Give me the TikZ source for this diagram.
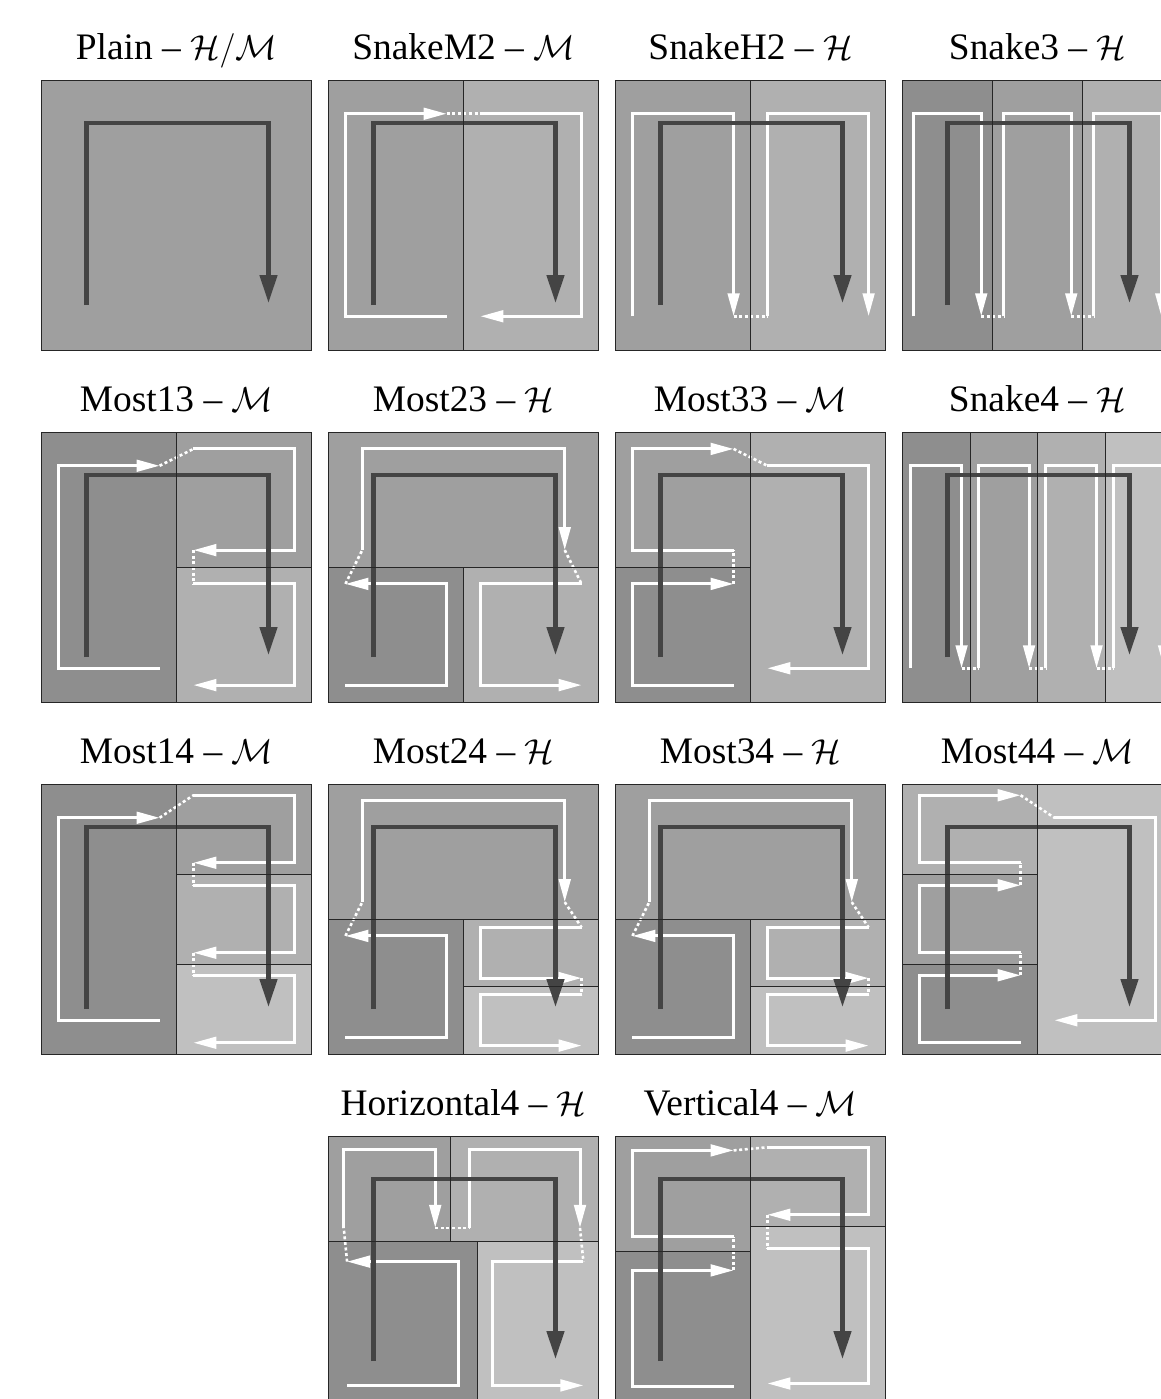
\documentclass[tikz,border=0pt]{standalone}
\usepackage{fontspec}
\setmainfont{Liberation Serif}
\usetikzlibrary{arrows.meta}
\definecolor{tileA}{HTML}{8E8E8E}
\definecolor{tileB}{HTML}{9F9F9F}
\definecolor{tileC}{HTML}{B0B0B0}
\definecolor{tileD}{HTML}{C0C0C0}
\definecolor{routegray}{HTML}{444444}
\tikzset{
  every picture/.append style={line join=miter},
  panel frame/.style={draw=black!85,line width=0.5pt},
  panel divider/.style={black!85,line width=0.5pt},
  dark route/.style={routegray,line width=2.3pt,-{Triangle[length=14pt,width=8.5pt]}},
  white route/.style={white,line width=1.5pt,-{Triangle[length=11.5pt,width=5.8pt]}},
  white hop/.style={white,line width=1.3pt,dash pattern=on 1.5pt off 1.3pt},
  panel title/.style={anchor=base,font=\fontsize{18.7pt}{22pt}\selectfont}
}
\newcommand{\darkroute}{\draw[dark route] (45,225) -- (45,43) -- (227,43) -- (227,223);}
\newcommand{\panelframe}{\draw[panel frame] (0,0) rectangle (270,270);}

\begin{document}
\begin{tikzpicture}[x=0.5pt,y=-0.5pt]
\clip (0,0) rectangle (1161,1399);
\fill[white] (0,0) rectangle (1161,1399);

% row 1
\begin{scope}[shift={(41.5,80)}]
  \node[panel title] (plain) at (135,-21) {Plain -- $\mathcal{H}/\mathcal{M}$};
  \fill[tileB] (0,0) rectangle (270,270);
  \darkroute
  \panelframe
\end{scope}

\begin{scope}[shift={(328.5,80)}]
  \node[panel title] (snakem2) at (135,-21) {SnakeM2 -- $\mathcal{M}$};
  \fill[tileB] (0,0) rectangle (135,270);
  \fill[tileC] (135,0) rectangle (270,270);
  \draw[white route] (118.1,236.25) -- (16.9,236.25) -- (16.9,33.75) -- (118.1,33.75);
  \draw[white hop] (118.1,33.75) -- (151.9,33.75);
  \draw[white route] (151.9,33.75) -- (253.1,33.75) -- (253.1,236.25) -- (151.9,236.25);
  \darkroute
  \draw[panel divider] (135,0) -- (135,270);
  \panelframe
\end{scope}

\begin{scope}[shift={(615.5,80)}]
  \node[panel title] (snakeh2) at (135,-21) {SnakeH2 -- $\mathcal{H}$};
  \fill[tileB] (0,0) rectangle (135,270);
  \fill[tileC] (135,0) rectangle (270,270);
  \draw[white route] (16.9,236.25) -- (16.9,33.75) -- (118.1,33.75) -- (118.1,236.25);
  \draw[white hop] (118.1,236.25) -- (151.9,236.25);
  \draw[white route] (151.9,236.25) -- (151.9,33.75) -- (253.1,33.75) -- (253.1,236.25);
  \darkroute
  \draw[panel divider] (135,0) -- (135,270);
  \panelframe
\end{scope}

\begin{scope}[shift={(902.5,80)}]
  \node[panel title] (snake3) at (135,-21) {Snake3 -- $\mathcal{H}$};
  \foreach \k/\c in {0/tileA,1/tileB,2/tileC}{
    \fill[\c] (90*\k,0) rectangle (90*\k+90,270);
    \draw[white route] (90*\k+11.25,236.25) -- (90*\k+11.25,33.75) -- (90*\k+78.75,33.75) -- (90*\k+78.75,236.25);
  }
  \foreach \k in {0,1}
    \draw[white hop] (90*\k+78.75,236.25) -- (90*\k+101.25,236.25);
  \darkroute
  \draw[panel divider] (90,0) -- (90,270) (180,0) -- (180,270);
  \panelframe
\end{scope}

% row 2
\begin{scope}[shift={(41.5,432)}]
  \node[panel title] (most13) at (135,-21) {Most13 -- $\mathcal{M}$};
  \fill[tileA] (0,0) rectangle (135,270);
  \fill[tileB] (135,0) rectangle (270,135);
  \fill[tileC] (135,135) rectangle (270,270);
  \draw[white route] (118.1,236.25) -- (16.9,236.25) -- (16.9,33.75) -- (118.1,33.75);
  \draw[white hop] (118.1,33.75) -- (151.9,16.9);
  \draw[white route] (151.9,16.9) -- (253.1,16.9) -- (253.1,118.1) -- (151.9,118.1);
  \draw[white hop] (151.9,118.1) -- (151.9,151.9);
  \draw[white route] (151.9,151.9) -- (253.1,151.9) -- (253.1,253.1) -- (151.9,253.1);
  \darkroute
  \draw[panel divider] (135,0) -- (135,270) (135,135) -- (270,135);
  \panelframe
\end{scope}

\begin{scope}[shift={(328.5,432)}]
  \node[panel title] (most23) at (135,-21) {Most23 -- $\mathcal{H}$};
  \fill[tileB] (0,0) rectangle (270,135);
  \fill[tileA] (0,135) rectangle (135,270);
  \fill[tileC] (135,135) rectangle (270,270);
  \draw[white route] (16.9,253.1) -- (118.1,253.1) -- (118.1,151.9) -- (16.9,151.9);
  \draw[white hop] (16.9,151.9) -- (33.75,118.1);
  \draw[white route] (33.75,118.1) -- (33.75,16.9) -- (236.25,16.9) -- (236.25,118.1);
  \draw[white hop] (236.25,118.1) -- (253.1,151.9);
  \draw[white route] (253.1,151.9) -- (151.9,151.9) -- (151.9,253.1) -- (253.1,253.1);
  \darkroute
  \draw[panel divider] (0,135) -- (270,135) (135,135) -- (135,270);
  \panelframe
\end{scope}

\begin{scope}[shift={(615.5,432)}]
  \node[panel title] (most33) at (135,-21) {Most33 -- $\mathcal{M}$};
  \fill[tileB] (0,0) rectangle (135,135);
  \fill[tileA] (0,135) rectangle (135,270);
  \fill[tileC] (135,0) rectangle (270,270);
  \draw[white route] (118.1,253.1) -- (16.9,253.1) -- (16.9,151.9) -- (118.1,151.9);
  \draw[white hop] (118.1,151.9) -- (118.1,118.1);
  \draw[white route] (118.1,118.1) -- (16.9,118.1) -- (16.9,16.9) -- (118.1,16.9);
  \draw[white hop] (118.1,16.9) -- (151.9,33.75);
  \draw[white route] (151.9,33.75) -- (253.1,33.75) -- (253.1,236.25) -- (151.9,236.25);
  \darkroute
  \draw[panel divider] (135,0) -- (135,270) (0,135) -- (135,135);
  \panelframe
\end{scope}

\begin{scope}[shift={(902.5,432)}]
  \node[panel title] (snake4) at (135,-21) {Snake4 -- $\mathcal{H}$};
  \foreach \k/\c in {0/tileA,1/tileB,2/tileC,3/tileD}{
    \fill[\c] (67.5*\k,0) rectangle (67.5*\k+67.5,270);
    \draw[white route] (67.5*\k+8.44,236.25) -- (67.5*\k+8.44,33.75) -- (67.5*\k+59.06,33.75) -- (67.5*\k+59.06,236.25);
  }
  \foreach \k in {0,1,2}
    \draw[white hop] (67.5*\k+59.06,236.25) -- (67.5*\k+75.94,236.25);
  \darkroute
  \draw[panel divider] (67.5,0) -- (67.5,270) (135,0) -- (135,270) (202.5,0) -- (202.5,270);
  \panelframe
\end{scope}

% row 3
\begin{scope}[shift={(41.5,784)}]
  \node[panel title] (most14) at (135,-21) {Most14 -- $\mathcal{M}$};
  \fill[tileA] (0,0) rectangle (135,270);
  \foreach \k/\c in {0/tileB,1/tileC,2/tileD}{
    \fill[\c] (135,90*\k) rectangle (270,90*\k+90);
    \draw[white route] (151.9,90*\k+11.25) -- (253.1,90*\k+11.25) -- (253.1,90*\k+78.75) -- (151.9,90*\k+78.75);
  }
  \foreach \k in {0,1}
    \draw[white hop] (151.9,90*\k+78.75) -- (151.9,90*\k+101.25);
  \draw[white route] (118.1,236.25) -- (16.9,236.25) -- (16.9,33.75) -- (118.1,33.75);
  \draw[white hop] (118.1,33.75) -- (151.9,11.25);
  \darkroute
  \draw[panel divider] (135,0) -- (135,270) (135,90) -- (270,90) (135,180) -- (270,180);
  \panelframe
\end{scope}

\foreach \px/\name/\lbl in {328.5/most24/Most24,615.5/most34/Most34}{
\begin{scope}[shift={(\px,784)}]
  \node[panel title] (\name) at (135,-21) {\lbl{} -- $\mathcal{H}$};
  \fill[tileB] (0,0) rectangle (270,135);
  \fill[tileA] (0,135) rectangle (135,270);
  \fill[tileC] (135,135) rectangle (270,202.5);
  \fill[tileD] (135,202.5) rectangle (270,270);
  \draw[white route] (16.9,253.1) -- (118.1,253.1) -- (118.1,151.9) -- (16.9,151.9);
  \draw[white hop] (16.9,151.9) -- (33.75,118.1);
  \draw[white route] (33.75,118.1) -- (33.75,16.9) -- (236.25,16.9) -- (236.25,118.1);
  \draw[white hop] (236.25,118.1) -- (253.1,143.4);
  \draw[white route] (253.1,143.4) -- (151.9,143.4) -- (151.9,194.1) -- (253.1,194.1);
  \draw[white hop] (253.1,194.1) -- (253.1,210.9);
  \draw[white route] (253.1,210.9) -- (151.9,210.9) -- (151.9,261.6) -- (253.1,261.6);
  \darkroute
  \draw[panel divider] (0,135) -- (270,135) (135,135) -- (135,270) (135,202.5) -- (270,202.5);
  \panelframe
\end{scope}
}

\begin{scope}[shift={(902.5,784)}]
  \node[panel title] (most44) at (135,-21) {Most44 -- $\mathcal{M}$};
  \fill[tileD] (135,0) rectangle (270,270);
  \foreach \k/\c in {0/tileC,1/tileB,2/tileA}{
    \fill[\c] (0,90*\k) rectangle (135,90*\k+90);
    \draw[white route] (118.1,90*\k+78.75) -- (16.9,90*\k+78.75) -- (16.9,90*\k+11.25) -- (118.1,90*\k+11.25);
  }
  \foreach \k in {1,2}
    \draw[white hop] (118.1,90*\k+11.25) -- (118.1,90*\k-11.25);
  \draw[white hop] (118.1,11.25) -- (151.9,33.75);
  \draw[white route] (151.9,33.75) -- (253.1,33.75) -- (253.1,236.25) -- (151.9,236.25);
  \darkroute
  \draw[panel divider] (135,0) -- (135,270) (0,90) -- (135,90) (0,180) -- (135,180);
  \panelframe
\end{scope}

% row 4
\begin{scope}[shift={(328.5,1136)}]
  \node[panel title] (horizontal4) at (135,-21) {Horizontal4 -- $\mathcal{H}$};
  \fill[tileB] (0,0) rectangle (122,105);
  \fill[tileC] (122,0) rectangle (270,105);
  \fill[tileA] (0,105) rectangle (149,270);
  \fill[tileD] (149,105) rectangle (270,270);
  \draw[white route] (18.6,249.4) -- (130.4,249.4) -- (130.4,125.6) -- (18.6,125.6);
  \draw[white hop] (18.6,125.6) -- (15.25,91.9);
  \draw[white route] (15.25,91.9) -- (15.25,13.1) -- (106.75,13.1) -- (106.75,91.9);
  \draw[white hop] (106.75,91.9) -- (140.5,91.9);
  \draw[white route] (140.5,91.9) -- (140.5,13.1) -- (251.5,13.1) -- (251.5,91.9);
  \draw[white hop] (251.5,91.9) -- (254.9,125.6);
  \draw[white route] (254.9,125.6) -- (164.1,125.6) -- (164.1,249.4) -- (254.9,249.4);
  \darkroute
  \draw[panel divider] (122,0) -- (122,105) (0,105) -- (270,105) (149,105) -- (149,270);
  \panelframe
\end{scope}

\begin{scope}[shift={(615.5,1136)}]
  \node[panel title] (vertical4) at (135,-21) {Vertical4 -- $\mathcal{M}$};
  \fill[tileB] (0,0) rectangle (135,115);
  \fill[tileA] (0,115) rectangle (135,270);
  \fill[tileC] (135,0) rectangle (270,90);
  \fill[tileD] (135,90) rectangle (270,270);
  \draw[white route] (118.1,250.6) -- (16.9,250.6) -- (16.9,134.4) -- (118.1,134.4);
  \draw[white hop] (118.1,134.4) -- (118.1,100.6);
  \draw[white route] (118.1,100.6) -- (16.9,100.6) -- (16.9,14.4) -- (118.1,14.4);
  \draw[white hop] (118.1,14.4) -- (151.9,11.25);
  \draw[white route] (151.9,11.25) -- (253.1,11.25) -- (253.1,78.75) -- (151.9,78.75);
  \draw[white hop] (151.9,78.75) -- (151.9,112.5);
  \draw[white route] (151.9,112.5) -- (253.1,112.5) -- (253.1,247.5) -- (151.9,247.5);
  \darkroute
  \draw[panel divider] (135,0) -- (135,270) (0,115) -- (135,115) (135,90) -- (270,90);
  \panelframe
\end{scope}
\end{tikzpicture}
\end{document}
